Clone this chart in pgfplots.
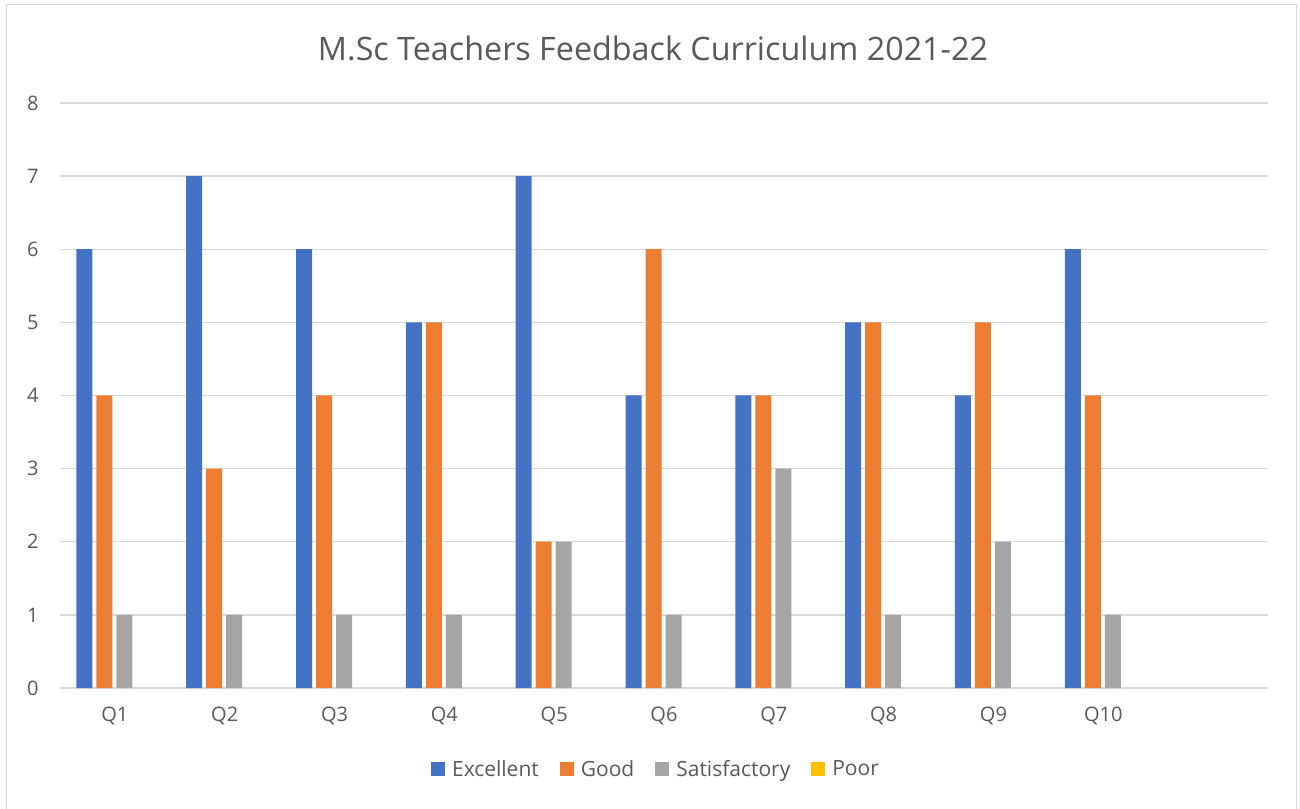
\documentclass[border=0pt]{standalone}
\usepackage{pgfplots}
\pgfplotsset{compat=1.18}
\usepackage{fontspec}
\setmainfont{Open Sans}
\definecolor{cExc}{HTML}{4472C4}
\definecolor{cGood}{HTML}{ED7D31}
\definecolor{cSat}{HTML}{A5A5A5}
\definecolor{cPoor}{HTML}{FFC000}
\definecolor{txt}{HTML}{595959}
\definecolor{gridc}{HTML}{D9D9D9}
\begin{document}
\begin{tikzpicture}[x=1pt,y=1pt]
\path[use as bounding box] (0,0) rectangle (1300,808);
\draw[gridc, line width=1.3pt] (6.5,-2) rectangle (1296.5,803.3);
\node[text=txt, font=\fontsize{32.3}{38}\selectfont] at (653,760) {M.Sc Teachers Feedback Curriculum 2021-22};
\begin{axis}[
  at={(60pt,120pt)}, anchor=south west,
  scale only axis, width=1208pt, height=585pt,
  xmin=-0.5, xmax=10.5, ymin=0, ymax=8,
  ybar, bar width=16pt,
  axis line style={draw=none},
  major tick length=0pt,
  ymajorgrids, grid style={gridc, line width=1.3pt},
  ytick={0,...,8},
  xtick={0,...,9},
  xticklabels={Q1,Q2,Q3,Q4,Q5,Q6,Q7,Q8,Q9,Q10},
  tick label style={text=txt, font=\fontsize{20}{24}\selectfont},
  /pgf/number format/assume math mode=true,
  yticklabel style={xshift=-18pt},
  xticklabel style={yshift=-15pt},
  unbounded coords=discard,
  legend columns=4,
  legend style={at={(0.5,0)}, anchor=north, xshift=-8pt, yshift=-68pt, draw=none,
    font=\fontsize{21}{25}\selectfont, text=txt,
    nodes={text depth=0.25em},
    /tikz/every odd column/.append style={column sep=5pt},
    /tikz/every even column/.append style={column sep=19pt}},
  legend image code/.code={\fill[#1] (0pt,-7pt) rectangle (14pt,7pt);},
]
\addplot[fill=cExc, draw=none, bar shift=-30.5pt] coordinates {(0,6) (1,7) (2,6) (3,5) (4,7) (5,4) (6,4) (7,5) (8,4) (9,6)};
\addplot[fill=cGood, draw=none, bar shift=-10.5pt] coordinates {(0,4) (1,3) (2,4) (3,5) (4,2) (5,6) (6,4) (7,5) (8,5) (9,4)};
\addplot[fill=cSat, draw=none, bar shift=9.5pt] coordinates {(0,1) (1,1) (2,1) (3,1) (4,2) (5,1) (6,3) (7,1) (8,2) (9,1)};
\addplot[fill=cPoor, draw=none, bar shift=29.5pt, forget plot, y filter/.expression={y==0 ? nan : y}] coordinates {(0,0) (1,0) (2,0) (3,0) (4,0) (5,0) (6,0) (7,0) (8,0) (9,0)};
\addlegendimage{fill=cPoor, draw=none}
\legend{Excellent, Good, Satisfactory, Poor}
\end{axis}
\end{tikzpicture}
\end{document}
